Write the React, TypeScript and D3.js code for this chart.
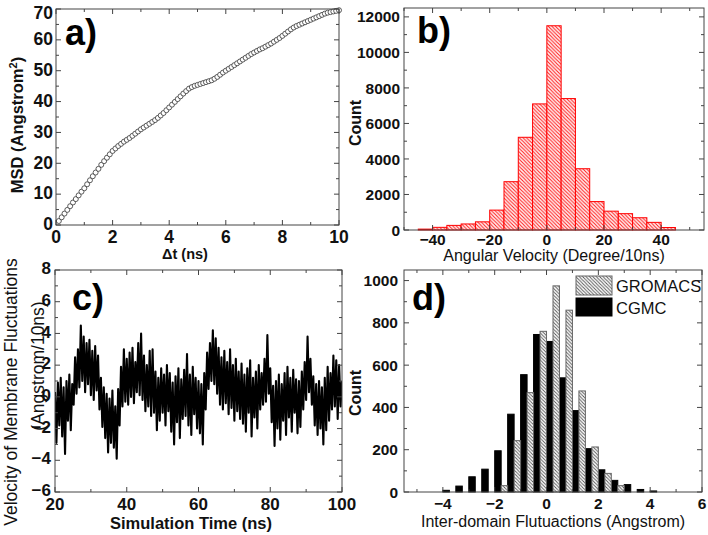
import React from 'react';
import * as d3 from 'd3';

const FONT = "'Liberation Sans', Arial, Helvetica, sans-serif";

// ---------- Panel a: MSD vs lag time ----------
const msdStart = 0.1;
const msdStep = 0.1;
const msdValues = [
  1.3, 2.5, 3.7, 4.9, 6.1, 7.3, 8.4, 9.6, 10.8, 11.9,
  13.2, 14.5, 15.8, 17.0, 18.2, 19.5, 20.7, 21.8, 22.9, 24.0,
  24.8, 25.6, 26.3, 27.0, 27.6, 28.2, 28.9, 29.6, 30.3, 31.0,
  31.6, 32.2, 32.8, 33.4, 34.0, 34.7, 35.5, 36.3, 37.2, 38.1,
  39.0, 39.9, 40.8, 41.7, 42.6, 43.4, 44.2, 44.7, 45.1, 45.4,
  45.7, 46.0, 46.3, 46.6, 46.9, 47.4, 48.0, 48.7, 49.4, 50.0,
  50.6, 51.2, 51.8, 52.4, 53.0, 53.6, 54.2, 54.8, 55.4, 55.9,
  56.4, 56.9, 57.3, 57.8, 58.3, 58.8, 59.4, 60.0, 60.6, 61.3,
  62.0, 62.7, 63.4, 64.0, 64.5, 64.9, 65.3, 65.7, 66.1, 66.5,
  66.9, 67.3, 67.7, 68.1, 68.5, 68.8, 69.0, 69.2, 69.4, 69.6,
];

// ---------- Panel b: angular velocity histogram ----------
const angBinStarts = [-45, -40, -35, -30, -25, -20, -15, -10, -5, 0, 5, 10, 15, 20, 25, 30, 35, 40];
const angBinWidth = 5;
const angCounts = [50, 150, 260, 340, 460, 1120, 2720, 5220, 7100, 11500, 7400, 3450, 1600, 1060, 920, 690, 430, 140];

// ---------- Panel c: velocity of membrane fluctuations ----------
const velStart = 20;
const velStep = 0.4;
const velValues = [
  0.3, -2.9, 0.9, -1.8, 1.2, -2.5, 0.6, -3.6, 1.0, -1.5,
  1.4, -2.1, 0.8, -0.5, 2.5, 0.2, 3.0, 0.6, 4.5, 1.0,
  3.8, 0.3, 3.4, 0.8, 3.6, 0.1, 2.9, -0.2, 3.2, 0.4,
  2.6, -0.8, 1.2, -1.9, 0.6, -2.6, 0.2, -3.5, -0.1, -2.9,
  0.4, -3.2, -0.6, -3.9, 0.5, -1.8, 1.9, -0.6, 3.0, -0.3,
  2.4, -0.5, 2.8, 0.0, 3.1, -0.4, 2.2, 0.3, 3.4, 0.1,
  4.0, -0.2, 2.6, -0.9, 2.0, -0.6, 2.9, -1.2, 3.0, -1.0,
  1.6, -2.1, 1.2, -1.5, 1.8, -1.0, 1.4, -1.8, 2.0, -0.9,
  1.5, -2.2, 0.9, -3.0, 1.3, -1.6, 1.8, -2.6, 1.1, -1.4,
  1.7, -1.2, 2.7, -1.8, 1.4, -2.4, 1.9, -1.1, 1.2, -2.0,
  1.0, -2.3, 0.8, -3.0, 1.5, -0.8, 2.8, 0.5, 3.4, 1.0,
  4.2, 0.8, 3.7, 0.2, 3.1, -0.5, 2.5, -0.8, 2.9, -0.4,
  2.2, -1.1, 3.0, -0.7, 2.0, -1.5, 2.4, -0.9, 1.6, -1.4,
  2.1, -1.7, 1.4, -2.2, 1.8, -1.0, 2.3, -2.5, 1.2, -1.3,
  1.6, -2.0, 2.0, -0.8, 1.5, -0.5, 2.4, -0.3, 3.9, 0.2,
  1.8, -1.6, 0.7, -3.1, 1.0, -2.0, 1.4, -2.7, 0.8, -1.5,
  1.5, -2.4, 1.9, -1.3, 1.2, -2.2, 1.7, -1.0, 1.1, -2.3,
  1.0, -1.9, 1.6, -0.8, 2.2, -0.2, 3.8, 0.3, 2.4, -0.5,
  1.3, -1.8, 0.8, -2.4, 1.0, -2.0, 0.6, -3.0, 1.2, -2.1,
  1.9, -1.5, 1.5, -0.8, 2.6, -0.6, 2.3, -1.4, 2.0, -0.6,
  1.0,
];

// ---------- Panel d: inter-domain fluctuations ----------
const domBinStarts = [-5.5, -5, -4.5, -4, -3.5, -3, -2.5, -2, -1.5, -1, -0.5, 0, 0.5, 1, 1.5, 2, 2.5, 3, 3.5, 4, 4.5, 5, 5.5];
const domBinWidth = 0.5;
const cgmcCounts = [0, 0, 0, 8, 28, 72, 108, 195, 368, 555, 745, 712, 540, 385, 205, 105, 55, 35, 12, 5, 0, 0, 0];
const gromacsCounts = [0, 0, 0, 0, 0, 0, 0, 30, 243, 470, 760, 975, 860, 478, 213, 88, 30, 0, 0, 0, 0, 0, 0];
const legendLabels = ['GROMACS', 'CGMC'];

// ---------- Axis ticks ----------
const aXMajor = [0, 2, 4, 6, 8, 10];
const aXMinor = [1, 3, 5, 7, 9];
const aYMajor = [0, 10, 20, 30, 40, 50, 60, 70];
const aYMinor = [5, 15, 25, 35, 45, 55, 65];
const bXMajor = [-40, -20, 0, 20, 40];
const bXMinor = [-50, -30, -10, 10, 30, 50];
const bYMajor = [0, 2000, 4000, 6000, 8000, 10000, 12000];
const bYMinor = [1000, 3000, 5000, 7000, 9000, 11000];
const cXMajor = [20, 40, 60, 80, 100];
const cXMinor = [30, 50, 70, 90];
const cYMajor = [-6, -4, -2, 0, 2, 4, 6, 8];
const cYMinor = [-5, -3, -1, 1, 3, 5, 7];
const dXMajor = [-4, -2, 0, 2, 4, 6];
const dXMinor = [-5, -3, -1, 1, 3, 5];
const dYMajor = [0, 200, 400, 600, 800, 1000];
const dYMinor = [100, 300, 500, 700, 900];

type Lin = d3.ScaleLinear<number, number>;

function Frame(props: {
  x: Lin; y: Lin; xMajor: number[]; xMinor: number[]; yMajor: number[]; yMinor: number[];
  fs: number; xLabelY: number; yLabelX: number; yLabelDy?: number; yLabelMin?: number;
}) {
  const { x, y, xMajor, xMinor, yMajor, yMinor, fs, xLabelY, yLabelX } = props;
  const yDy = props.yLabelDy ?? 0;
  const yMin = props.yLabelMin ?? -1000;
  const [x0, x1] = x.range();
  const [y0, y1] = y.range(); // y0 bottom, y1 top
  const col = '#444';
  const M = 5, m = 3;
  const dx = x.domain(), dy = y.domain();
  const inX = (v: number) => v >= Math.min(dx[0], dx[1]) - 1e-9 && v <= Math.max(dx[0], dx[1]) + 1e-9;
  const inY = (v: number) => v >= Math.min(dy[0], dy[1]) - 1e-9 && v <= Math.max(dy[0], dy[1]) + 1e-9;
  return (
    <g>
      <rect x={x0} y={y1} width={x1 - x0} height={y0 - y1} fill="none" stroke={col} strokeWidth={1} />
      {xMajor.filter(inX).map((v) => (
        <g key={'xM' + v}>
          <line x1={x(v)} x2={x(v)} y1={y0} y2={y0 - M} stroke={col} />
          <line x1={x(v)} x2={x(v)} y1={y1} y2={y1 + M} stroke={col} />
        </g>
      ))}
      {xMinor.filter(inX).map((v) => (
        <g key={'xm' + v}>
          <line x1={x(v)} x2={x(v)} y1={y0} y2={y0 - m} stroke={col} />
          <line x1={x(v)} x2={x(v)} y1={y1} y2={y1 + m} stroke={col} />
        </g>
      ))}
      {yMajor.filter(inY).map((v) => (
        <g key={'yM' + v}>
          <line x1={x0} x2={x0 + M} y1={y(v)} y2={y(v)} stroke={col} />
          <line x1={x1} x2={x1 - M} y1={y(v)} y2={y(v)} stroke={col} />
        </g>
      ))}
      {yMinor.filter(inY).map((v) => (
        <g key={'ym' + v}>
          <line x1={x0} x2={x0 + m} y1={y(v)} y2={y(v)} stroke={col} />
          <line x1={x1} x2={x1 - m} y1={y(v)} y2={y(v)} stroke={col} />
        </g>
      ))}
      {xMajor.map((v) => (
        <text key={'xt' + v} x={x(v)} y={xLabelY} textAnchor="middle" fontSize={fs} fontWeight="bold" fill="#111">
          {String(v).replace('-', '\u2212')}
        </text>
      ))}
      {yMajor.map((v) => (
        <text key={'yt' + v} x={yLabelX} y={Math.max(y(v) + yDy, yMin)} dy="0.36em" textAnchor="end" fontSize={fs} fontWeight="bold" fill="#111">
          {String(v).replace('-', '\u2212')}
        </text>
      ))}
    </g>
  );
}

function VText(props: { cx: number; cy: number; fs: number; bold?: boolean; children: React.ReactNode }) {
  const { cx, cy, fs, bold, children } = props;
  return (
    <text transform={`translate(${cx},${cy}) rotate(-90)`} textAnchor="middle" dy="0.36em" fontSize={fs} fontWeight={bold ? 'bold' : 'normal'} fill="#111">
      {children}
    </text>
  );
}

export default function App() {
  // scales
  const xA = d3.scaleLinear().domain([0, 10]).range([56, 339]);
  const yA = d3.scaleLinear().domain([0, 70]).range([225, 9]);
  const xB = d3.scaleLinear().domain([-50, 55]).range([404, 704]);
  const yB = d3.scaleLinear().domain([0, 12500]).range([230, 8]);
  const xC = d3.scaleLinear().domain([20, 100]).range([55, 342]);
  const yC = d3.scaleLinear().domain([-6, 8]).range([492, 270]);
  const xD = d3.scaleLinear().domain([-5.5, 6]).range([404, 702]);
  const yD = d3.scaleLinear().domain([0, 1050]).range([492, 270]);

  const velLine = d3
    .line<number>()
    .x((_, i) => xC(velStart + i * velStep))
    .y((v) => yC(v));

  return (
    <svg width={708} height={535} style={{ position: 'absolute', left: 0, top: 0, background: '#fff' }} fontFamily={FONT}>
      <defs>
        <pattern id="hatchRed" patternUnits="userSpaceOnUse" width={3.6} height={3.6}>
          <rect width={3.6} height={3.6} fill="#fff4f4" />
          <path d="M-1,2.6 l2,2 M0,0 l3.6,3.6 M2.6,-1 l2,2" stroke="#ff1a1a" strokeWidth={1} />
        </pattern>
        <pattern id="hatchGray" patternUnits="userSpaceOnUse" width={3.4} height={3.4}>
          <rect width={3.4} height={3.4} fill="#ffffff" />
          <path d="M-1,2.4 l2,2 M0,0 l3.4,3.4 M2.4,-1 l2,2" stroke="#555" strokeWidth={0.9} />
        </pattern>
        <clipPath id="clipC">
          <rect x={55} y={270} width={287} height={222} />
        </clipPath>
      </defs>

      {/* ---------- Panel a ---------- */}
      <g>
        {msdValues.map((v, i) => (
          <circle key={i} cx={xA(msdStart + i * msdStep)} cy={yA(v)} r={2.5} fill="#fff" stroke="#333" strokeWidth={0.8} />
        ))}
        <Frame x={xA} y={yA} xMajor={aXMajor} xMinor={aXMinor} yMajor={aYMajor} yMinor={aYMinor} fs={17.5} xLabelY={243} yLabelX={53} yLabelDy={-1} yLabelMin={12.5} />
        <text x={65} y={45} fontSize={36} fontWeight="bold" fill="#000">a)</text>
        <text x={185} y={259} textAnchor="middle" fontSize={14.5} fontWeight="bold" fill="#111">Δt (ns)</text>
        <VText cx={17} cy={125} fs={16.5} bold>
          MSD (Angstrom<tspan baselineShift="super" fontSize={11}>2</tspan>)
        </VText>
      </g>

      {/* ---------- Panel b ---------- */}
      <g>
        {angCounts.map((c, i) => (
          <rect
            key={i}
            x={xB(angBinStarts[i])}
            y={yB(c)}
            width={xB(angBinStarts[i] + angBinWidth) - xB(angBinStarts[i])}
            height={yB(0) - yB(c)}
            fill="url(#hatchRed)"
            stroke="#ff0000"
            strokeWidth={1}
          />
        ))}
        <Frame x={xB} y={yB} xMajor={bXMajor} xMinor={bXMinor} yMajor={bYMajor} yMinor={bYMinor} fs={15.5} xLabelY={245} yLabelX={400} />
        <text x={417} y={43} fontSize={36} fontWeight="bold" fill="#000">b)</text>
        <text x={554} y={261} textAnchor="middle" fontSize={16} fill="#111">Angular Velocity (Degree/10ns)</text>
        <VText cx={355} cy={123} fs={16} bold>Count</VText>
      </g>

      {/* ---------- Panel c ---------- */}
      <g>
        <path d={velLine(velValues) || ''} fill="none" stroke="#000" strokeWidth={2.1} strokeLinejoin="round" clipPath="url(#clipC)" />
        <Frame x={xC} y={yC} xMajor={cXMajor} xMinor={cXMinor} yMajor={cYMajor} yMinor={cYMinor} fs={17} xLabelY={510} yLabelX={51} yLabelDy={-2} />
        <text x={72} y={310} fontSize={36} fontWeight="bold" fill="#000">c)</text>
        <text x={191} y={529} textAnchor="middle" fontSize={16.5} fontWeight="bold" fill="#111">Simulation Time (ns)</text>
        <VText cx={11} cy={392} fs={17.5}>Velocity of Membrane Fluctuations</VText>
        <VText cx={38} cy={366} fs={17.5}>(Angstrom/10ns)</VText>
      </g>

      {/* ---------- Panel d ---------- */}
      <g>
        {cgmcCounts.map((c, i) => (
          <rect
            key={'c' + i}
            x={xD(domBinStarts[i])}
            y={yD(c)}
            width={xD(domBinStarts[i] + domBinWidth / 2) - xD(domBinStarts[i])}
            height={yD(0) - yD(c)}
            fill="#000"
            stroke="#000"
            strokeWidth={1}
          />
        ))}
        {gromacsCounts.map((c, i) => (
          <rect
            key={'g' + i}
            x={xD(domBinStarts[i] + domBinWidth / 2)}
            y={yD(c)}
            width={xD(domBinStarts[i] + domBinWidth) - xD(domBinStarts[i] + domBinWidth / 2)}
            height={yD(0) - yD(c)}
            fill="url(#hatchGray)"
            stroke="#666"
            strokeWidth={1}
          />
        ))}
        <Frame x={xD} y={yD} xMajor={dXMajor} xMinor={dXMinor} yMajor={dYMajor} yMinor={dYMinor} fs={15.5} xLabelY={509} yLabelX={398} />
        <text x={412} y={310} fontSize={36} fontWeight="bold" fill="#000">d)</text>
        <text x={553} y={527} textAnchor="middle" fontSize={16} fill="#111">Inter-domain Flutuactions (Angstrom)</text>
        <VText cx={355} cy={393} fs={16} bold>Count</VText>
        {/* legend */}
        <rect x={576} y={276} width={36} height={19} fill="url(#hatchGray)" stroke="#666" strokeWidth={1} />
        <rect x={576} y={298} width={36} height={18} fill="#000" stroke="#000" strokeWidth={1} />
        <text x={616} y={292} fontSize={16.5} fill="#111">{legendLabels[0]}</text>
        <text x={616} y={314} fontSize={16.5} fill="#111">{legendLabels[1]}</text>
      </g>
    </svg>
  );
}
